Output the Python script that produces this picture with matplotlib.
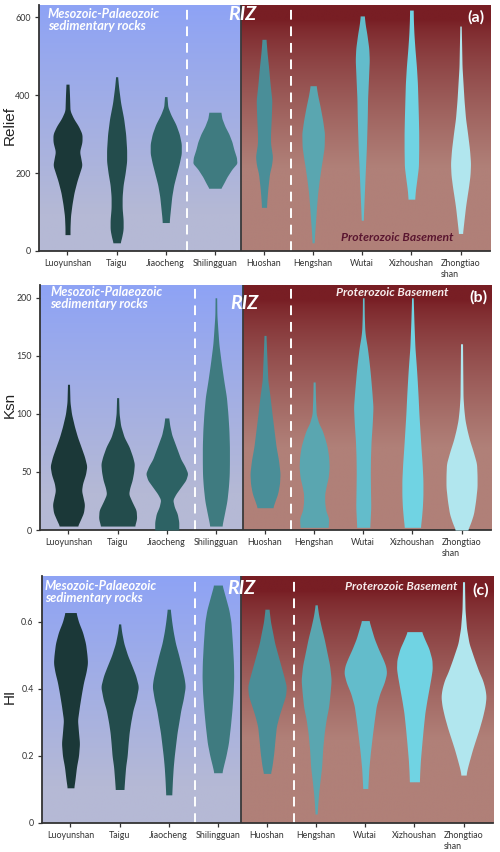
import matplotlib
matplotlib.use("Agg")
import matplotlib.pyplot as plt
import numpy as np

# ---- data ---------------------------------------------------------------
ranges = ["Luoyunshan", "Taigu", "Jiaocheng", "Shilingguan", "Huoshan",
          "Hengshan", "Wutai", "Xizhoushan", "Zhongtiao\nshan"]
violin_colors = ["#1b3838", "#234c4c", "#2d6264", "#3f7b80", "#4a8e98",
                 "#5aa6b0", "#63bccb", "#70d3e3", "#b1e6ee"]

# violin outlines: (value, relative density width)
relief_profiles = [
    [(428, 1.5), (400, 2), (360, 2.5), (340, 6), (320, 11), (300, 14.5), (280, 14.5), (255, 12),
     (235, 13.5), (220, 14.5), (200, 12), (180, 9.5), (150, 6.5), (120, 4.5), (90, 3), (60, 2.5), (42, 2.5)],
    [(447, 1), (420, 2), (380, 4), (340, 7), (300, 9), (260, 10), (230, 10), (200, 8.5), (170, 6.5),
     (140, 5.5), (110, 5.5), (80, 6.5), (55, 6.5), (35, 5), (21, 3.5)],
    [(396, 1.2), (370, 2), (350, 5), (325, 10), (300, 13.5), (275, 15.5), (250, 15.5), (225, 13.5),
     (200, 11), (170, 8), (140, 6), (110, 4.8), (85, 3.8), (73, 3.5)],
    [(356, 6), (340, 7), (320, 10), (300, 14), (280, 17), (260, 19), (240, 21.5), (225, 22), (210, 17),
     (190, 12), (175, 9), (161, 6)],
    [(543, 2), (510, 3), (473, 4.5), (430, 6), (387, 7.8), (344, 7.3), (300, 6.5), (276, 6.5), (242, 8.5),
     (220, 7.5), (199, 5.5), (160, 3.8), (131, 2.9), (112, 2.5)],
    [(424, 3), (400, 4.5), (370, 7), (335, 9.5), (302, 11.3), (267, 11), (240, 9.5), (216, 8), (180, 6),
     (148, 4.5), (110, 3.3), (79, 2.5), (45, 1.5), (21, 1)],
    [(603, 2), (580, 3), (558, 4.5), (520, 6.5), (490, 7), (460, 6.5), (430, 6), (390, 5.3), (344, 5),
     (300, 4.5), (259, 4), (215, 3.2), (173, 2.5), (130, 1.8), (100, 1.3), (79, 1)],
    [(618, 1.8), (590, 2), (558, 2.5), (520, 3.5), (473, 5), (430, 6), (387, 6.5), (340, 7), (302, 7.3),
     (260, 7.3), (216, 7), (185, 5.5), (156, 4), (133, 3.3)],
    [(577, 0.7), (540, 1), (473, 1.5), (430, 2.5), (387, 3.5), (340, 5), (302, 7), (260, 9), (225, 10),
     (195, 9.5), (165, 8), (140, 6.5), (114, 5), (80, 3.5), (45, 2)],
]
ksn_profiles = [
    [(125.5, 1), (110, 1.5), (100, 3), (89, 6), (80, 9), (71.6, 12.5), (63, 16), (55, 18.3), (48, 17),
     (40, 14), (34, 13), (28, 14.5), (22, 16), (15, 15), (9, 12), (3.4, 9)],
    [(114, 1), (100, 1.5), (90, 3), (80, 6.5), (71.6, 11.5), (63, 15), (57, 16.7), (50, 16), (43, 14.5),
     (36, 12), (31, 11), (25, 14), (17, 18.5), (10, 19), (3.4, 17)],
    [(96.5, 2), (90, 3), (82, 5), (75, 8), (68, 11), (61, 14), (55, 18), (48.7, 21), (43, 19), (37, 14),
     (31, 9), (26, 6), (20, 7.5), (14, 10.5), (7, 12), (0, 12)],
    [(200, 0.8), (185, 1), (172, 2), (160, 3), (143, 5.5), (128, 8), (114.6, 10.5), (100, 12), (86, 13),
     (72, 13.5), (57, 13.5), (47, 13.3), (37, 12.5), (25, 11), (14, 8.5), (3.4, 6)],
    [(167.6, 1), (150, 1.8), (129, 2.8), (115, 5), (100, 7), (86, 9), (72, 11), (60, 13.5), (49, 15),
     (40, 14.5), (31.5, 12.7), (25, 10), (19.2, 7.7)],
    [(127.5, 1), (115, 1.3), (100, 2), (92, 4.5), (86, 8), (78, 11), (71.6, 13), (63, 14.5), (54, 15),
     (45, 14), (38, 12), (31, 10.5), (24, 10.5), (17, 11.5), (10, 14.5), (2.3, 14)],
    [(200, 0.8), (185, 1), (172, 1.5), (165, 2.5), (157.6, 4), (145, 5.8), (135, 7), (120, 8.5), (106, 9.7),
     (92, 9), (77, 7.8), (63, 7.2), (49, 7), (35, 7.2), (20, 7.5), (2.3, 6.5)],
    [(200, 0.8), (180, 1.5), (157.6, 2.5), (140, 4), (129, 4.8), (115, 5.7), (100, 6.5), (86, 7.5), (72, 8.5),
     (57, 9.7), (43, 10.5), (30, 10.5), (20, 10), (10, 9), (2.3, 8)],
    [(160.4, 1), (140, 1.2), (114.6, 1.5), (104, 2.3), (94.5, 3.5), (86, 5.5), (77.4, 8), (68, 11.5),
     (57.3, 15), (47, 15.5), (37, 15.5), (25, 14), (14, 12), (6, 9), (0, 6)],
]
hi_profiles = [
    [(0.628, 5.5), (0.6, 8), (0.57, 12), (0.536, 15), (0.5, 16.5), (0.477, 17), (0.45, 15.5), (0.42, 13),
     (0.387, 11), (0.35, 9), (0.307, 7), (0.27, 8), (0.238, 9), (0.2, 8), (0.168, 6), (0.13, 4.5), (0.105, 3.3)],
    [(0.594, 1), (0.57, 2), (0.536, 4.2), (0.5, 8), (0.467, 12.5), (0.44, 16), (0.407, 18.8), (0.37, 16.5),
     (0.337, 13.3), (0.3, 11), (0.27, 9.5), (0.238, 8.5), (0.2, 7.5), (0.168, 6), (0.13, 5), (0.1, 4.3)],
    [(0.638, 1.5), (0.6, 3), (0.57, 4.5), (0.536, 6.7), (0.5, 10), (0.457, 13.5), (0.43, 15.5), (0.407, 16.5),
     (0.37, 14.5), (0.337, 12), (0.3, 10), (0.27, 8.3), (0.238, 7), (0.2, 5.5), (0.168, 4.5), (0.13, 3.7),
     (0.084, 3)],
    [(0.71, 4.2), (0.68, 7), (0.636, 11), (0.6, 13), (0.536, 14.5), (0.48, 15.5), (0.437, 15.8), (0.39, 15.3),
     (0.337, 14), (0.29, 12.5), (0.238, 10.5), (0.2, 8), (0.17, 5.5), (0.15, 4)],
    [(0.638, 2), (0.6, 3.5), (0.57, 5.5), (0.536, 7.7), (0.5, 11), (0.457, 15), (0.43, 17.5), (0.407, 19.3),
     (0.38, 18.5), (0.357, 16), (0.32, 12), (0.288, 9.3), (0.25, 8), (0.208, 6.7), (0.17, 5), (0.148, 3.5)],
    [(0.651, 1), (0.62, 2.5), (0.586, 5), (0.55, 8), (0.506, 11), (0.47, 13.5), (0.427, 15), (0.39, 14),
     (0.347, 12.5), (0.31, 10), (0.268, 8), (0.22, 6.5), (0.168, 5.5), (0.13, 4), (0.089, 2.5), (0.05, 1.5),
     (0.027, 1)],
    [(0.604, 3.7), (0.58, 6), (0.55, 9), (0.52, 13), (0.487, 18), (0.467, 20.5), (0.447, 21.3), (0.42, 19),
     (0.387, 14.5), (0.35, 11), (0.307, 9), (0.26, 7), (0.208, 5), (0.16, 3.5), (0.103, 2.5)],
    [(0.571, 7.2), (0.55, 10), (0.52, 14.5), (0.487, 17.5), (0.46, 17.8), (0.437, 16.7), (0.4, 14.5),
     (0.367, 12.5), (0.33, 10.5), (0.288, 9), (0.24, 7.5), (0.188, 6), (0.15, 5.3), (0.123, 5)],
    [(0.72, 1), (0.68, 1.2), (0.636, 1.5), (0.58, 3), (0.536, 5.5), (0.487, 11), (0.45, 15.5), (0.427, 19),
     (0.4, 21.5), (0.377, 22.5), (0.35, 21.5), (0.317, 19), (0.28, 15.5), (0.248, 12), (0.22, 9), (0.188, 6),
     (0.16, 3.5), (0.143, 2.5)],
]

panel_names = ["Relief", "Ksn", "HI"]
panel_tags = ["(a)", "(b)", "(c)"]
panel_yticks = [[0, 200, 400, 600], [0, 50, 100, 150, 200], [0, 0.2, 0.4, 0.6]]
panel_yticklabels = [["0", "200", "400", "600"], ["0", "50", "100", "150", "200"], ["0", "0.2", "0.4", "0.6"]]
panel_ylim = [(0, 631), (0, 211), (0, 0.737)]

# ---- layout (pixels) ----------------------------------------------------
W, H = 500, 852
boxes = [(39, 5, 490, 251), (40, 285, 491, 530), (42, 576, 493, 823)]  # left, top, right, bottom
splits = [3.53, 3.55, 3.47]
dashes = [(2.43, 4.55), (2.57, 4.52), (2.53, 4.55)]
XLIM = (-0.58, 8.6)
WSCALE = 1 / 49.0

BLUE_TOP, BLUE_BOT = np.array([142, 163, 245]), np.array([181, 185, 213])
RED_TOP, RED_BOT = np.array([120, 30, 36]), np.array([176, 128, 120])


def fx(x):
    return x / W


def fy(y):
    return 1 - y / H


def gradient(top, bot, curve):
    t = np.linspace(0, 1, 256)
    f = curve(t)[:, None]
    return ((top * (1 - f) + bot * f) / 255.0)[:, None, :]


def violin(ax, pos, profile, color):
    vals = np.array([p[0] for p in profile], dtype=float)
    wid = np.array([p[1] for p in profile], dtype=float)
    order = np.argsort(vals)
    vals, wid = vals[order], wid[order]
    grid = np.linspace(vals[0], vals[-1], 300)
    w = np.interp(grid, vals, wid)
    k = 11
    w = np.convolve(np.pad(w, k // 2, mode="edge"), np.ones(k) / k, mode="valid")
    ax.fill_betweenx(grid, pos - w * WSCALE, pos + w * WSCALE, color=color, lw=0, zorder=3)


fig = plt.figure(figsize=(W / 100, H / 100), dpi=100, facecolor="white")
tick_font = dict(family="Lato", size=6.4, color="#333333")
pos = np.arange(len(ranges))

for i, profiles in enumerate([relief_profiles, ksn_profiles, hi_profiles]):
    l, t, r, b = boxes[i]
    ax = fig.add_axes([fx(l), fy(b), (r - l) / W, (b - t) / H])
    y0, y1 = panel_ylim[i]
    sp = splits[i]

    ax.imshow(gradient(BLUE_TOP, BLUE_BOT, lambda s: np.clip(s / 0.85, 0, 1)),
              extent=(XLIM[0], sp, y0, y1), aspect="auto", origin="upper", zorder=0,
              interpolation="bilinear")
    ax.imshow(gradient(RED_TOP, RED_BOT, lambda s: np.clip((s - 0.06) / 0.6, 0, 1) ** 0.75),
              extent=(sp, XLIM[1], y0, y1), aspect="auto", origin="upper", zorder=0,
              interpolation="bilinear")
    ax.axvline(sp, color="#3a3a3a", lw=1.3, zorder=2)
    for d in dashes[i]:
        ax.axvline(d, color="white", lw=1.4, ls=(0, (5, 3.5)), zorder=2)

    for j, prof in enumerate(profiles):
        violin(ax, pos[j], prof, violin_colors[j])

    ax.set_xlim(*XLIM)
    ax.set_ylim(y0, y1)
    ax.set_xticks(pos)
    ax.set_xticklabels(ranges, **tick_font)
    for lab in ax.get_xticklabels():
        lab.set_multialignment("left")
        lab.set_verticalalignment("top")
    ax.set_yticks(panel_yticks[i])
    ax.set_yticklabels(panel_yticklabels[i], **tick_font)
    ax.tick_params(axis="both", length=3, width=0.9, color="#333333", pad=3)
    for s in ["top", "right"]:
        ax.spines[s].set_visible(False)
    for s in ["left", "bottom"]:
        ax.spines[s].set_color("#333333")
        ax.spines[s].set_linewidth(1.3)

    fig.text(fx(10), fy((t + b) / 2 - 3), panel_names[i], rotation=90, ha="center", va="center",
             family="Liberation Sans", fontsize=11, color="#222222")

# annotations per panel
meso_xy = [(48, 8), (50.5, 286), (45, 580)]
riz_xy = [(242, 15), (244, 303), (241, 588)]
tag_xy = [(476, 17), (478, 297), (481, 590)]
prot_xy = [(397, 238), (392, 292), (401, 587)]
prot_color = ["#5a1630", "#f6ecec", "#f6ecec"]

for i in range(3):
    fig.text(fx(meso_xy[i][0]), fy(meso_xy[i][1]), "Mesozoic-Palaeozoic\nsedimentary rocks",
             ha="left", va="top", family="Lato", style="italic", weight="bold", fontsize=9.2,
             color="white", linespacing=0.95)
    fig.text(fx(riz_xy[i][0]), fy(riz_xy[i][1]), "RIZ", ha="center", va="center", family="Lato",
             style="italic", weight="bold", fontsize=14, color="white")
    fig.text(fx(tag_xy[i][0]), fy(tag_xy[i][1]), panel_tags[i], ha="center", va="center",
             family="Lato", weight="bold", fontsize=11.5, color="white")
    fig.text(fx(prot_xy[i][0]), fy(prot_xy[i][1]), "Proterozoic Basement", ha="center", va="center",
             family="Lato", style="italic", weight="bold", fontsize=8.7, color=prot_color[i])

fig.savefig("out.png", dpi=100, facecolor="white")
